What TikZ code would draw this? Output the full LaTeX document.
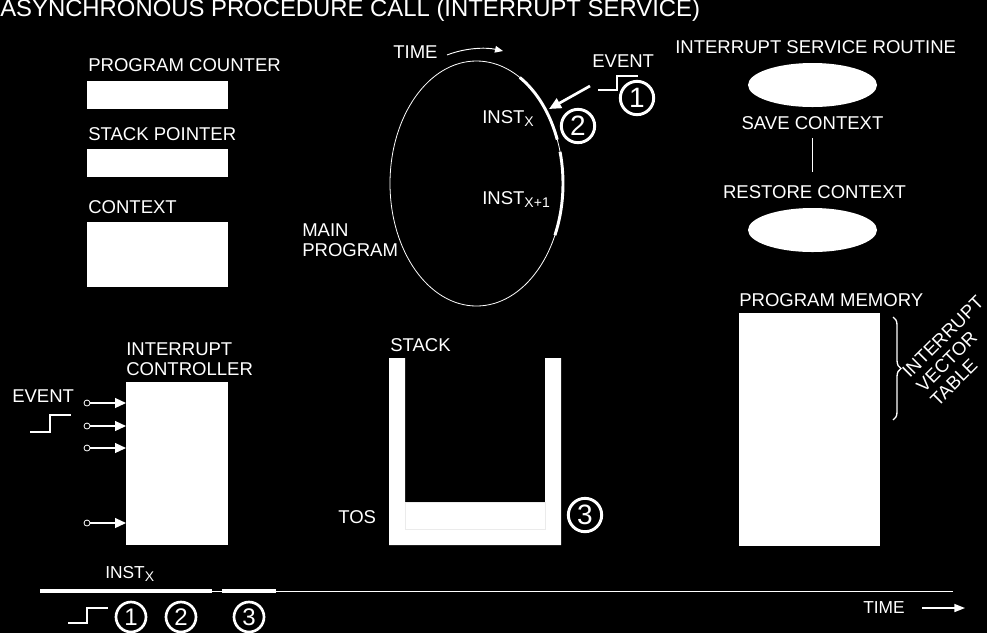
\documentclass[tikz,border=0pt]{standalone}
\usepackage{fontspec}
\setmainfont{Liberation Sans}
\usetikzlibrary{arrows.meta,positioning,shapes.geometric,decorations.pathreplacing}
\newlength{\px}
\setlength{\px}{0.75pt}
\newcommand{\lowx}[1]{\raisebox{-0.35ex}{\fontsize{10.5pt}{10.5pt}\selectfont #1}}

\begin{document}
\begin{tikzpicture}[x=1\px,y=-1\px,
  >={Triangle[length=8.25pt,width=7.5pt]},
  lbl/.style={text=white,inner sep=0pt,anchor=base west,
              font=\fontsize{13.9pt}{15pt}\selectfont},
  reg/.style={fill=white,draw=none,inner sep=0pt,outer sep=0pt,anchor=north west},
  num/.style={circle,draw=white,line width=2.2pt,text=white,inner sep=0pt,
              minimum size=25pt,font=\fontsize{21pt}{21pt}\selectfont},
  numsm/.style={num,minimum size=22.5pt,line width=2pt,font=\fontsize{18pt}{18pt}\selectfont},
  pin/.style={circle,draw=white,line width=0.6pt,inner sep=0pt,minimum size=4.5pt},
  sig/.style={->,white,line width=0.9pt},
  wire/.style={white,line width=0.9pt},
  oval/.style={ellipse,fill=white,draw=none,inner sep=0pt,
               minimum width=129\px,minimum height=44\px}]

\useasboundingbox (0,0) rectangle (987,633);
\fill[black] (0,0) rectangle (987,633);

\node[lbl,font=\fontsize{17.9pt}{18pt}\selectfont] (title) at (0,16)
  {ASYNCHRONOUS PROCEDURE CALL (INTERRUPT SERVICE)};

% registers
\node[lbl] (pclbl) at (88,71) {PROGRAM COUNTER};
\node[reg,minimum width=141\px,minimum height=28\px] (pc) at (87,81) {};
\node[lbl] (splbl) at (88,140) {STACK POINTER};
\node[reg,minimum width=141\px,minimum height=28\px] (sp) at (87,149) {};
\node[lbl] (ctxlbl) at (88,213) {CONTEXT};
\node[reg,minimum width=141\px,minimum height=65\px] (ctx) at (87,222) {};

% main program loop
\coordinate (mp) at (476.5,183.5);
\draw[white,line width=0.6pt] (mp) ellipse [x radius=86.5,y radius=122.5];
\draw[white,line width=2.2pt] (mp) ++(-60:86.5 and 122.5)
  arc[start angle=-60,end angle=-21,x radius=86.5,y radius=122.5];
\draw[white,line width=2.2pt] (mp) ++(-15:86.5 and 122.5)
  arc[start angle=-15,end angle=25,x radius=86.5,y radius=122.5];
\node[lbl] (instx) at (482,123) {INST\lowx{X}};
\node[lbl] (instx1) at (482,204) {INST\lowx{X+1}};
\node[lbl,align=left] (main) at (302,256) {MAIN\\PROGRAM};

\node[lbl] (timelbl) at (393,58) {TIME};
\coordinate (t0) at (447,55);
\coordinate (t1) at (503,51);
\draw[->,white,line width=0.7pt,>={Triangle[length=6pt,width=5pt]}]
  (t0) .. controls (465,48) and (485,47) .. (t1);

\node[lbl] (evlbl) at (592,67) {EVENT};
\draw[wire] (598,90) -| (617,76) -- (638,76);
\node[num] (n1) at (637,98) {1};
\coordinate (evtail) at (590,86);
\coordinate (evhit) at (549,109);
\draw[->,white,line width=2pt,>={Triangle[length=9pt,width=8pt]}] (evtail) -- (evhit);
\node[num] (n2) at (578,126) {2};

% service routine
\node[lbl] (isrlbl) at (675,53) {INTERRUPT SERVICE ROUTINE};
\node[oval] (save) at (812.5,85) {};
\node[lbl,anchor=base] (savelbl) at (812.5,129) {SAVE CONTEXT};
\node[lbl,anchor=base] (restlbl) at (814.5,198) {RESTORE CONTEXT};
\draw[wire,shorten <=9\px,shorten >=13\px] (savelbl.south) -- (savelbl.south |- restlbl.north);
\node[oval] (restore) at (812.5,230) {};

% program memory
\node[lbl] (pmlbl) at (739,306) {PROGRAM MEMORY};
\node[reg,minimum width=141\px,minimum height=233\px] (pm) at (739,313) {};
\coordinate (ivt0) at (893,317);
\coordinate (ivt1) at (893,420);
\draw[white,line width=1pt,decorate,decoration={brace,amplitude=6pt}] (ivt0) -- (ivt1);
\node[lbl,anchor=center,align=left,rotate=45] (ivt) at (957,351)
  {INTERRUPT\\VECTOR\\TABLE};

% stack
\node[lbl] (stacklbl) at (390,351) {STACK};
\fill[white] (389,358) |- (561,545) |- (545,358) |- (405,502) -- (405,358) -- cycle;
\draw[black!8,line width=0.5pt] (405,502) rectangle (545,529);
\node[lbl] (toslbl) at (338,523) {TOS};
\node[num] (n3) at (585,515) {3};

% interrupt controller
\node[lbl,align=left] (iclbl) at (126,375) {INTERRUPT\\CONTROLLER};
\node[reg,minimum width=102\px,minimum height=163\px] (ic) at (126,382) {};
\node[lbl] (evlbl2) at (12,402) {EVENT};
\draw[wire] (30,432) -| (50,415) -- (71,415);
\foreach \y/\n in {403/a,426/b,448/c,523/d}{
  \node[pin] (pin\n) at (87,\y) {};
  \draw[sig] (pin\n) -- (pin\n -| ic.west);
}

% time line
\coordinate (tl0) at (40,591);
\coordinate (tl1) at (212,591);
\coordinate (tl2) at (222,591);
\coordinate (tl3) at (276,591);
\coordinate (tl4) at (953,591);
\draw[white,line width=0.7pt] (tl0) -- (tl4);
\draw[white,line width=2.6pt] (tl0) -- (tl1) (tl2) -- (tl3);
\node[lbl,font=\fontsize{13pt}{14pt}\selectfont] (instb) at (105,578) {INST\lowx{X}};
\draw[wire] (68,623) -| (87,608) -- (108,608);
\node[numsm] (b1) at (131,617) {1};
\node[numsm] (b2) at (181,617) {2};
\node[numsm] (b3) at (249,617) {3};
\node[lbl,font=\fontsize{13pt}{14pt}\selectfont] (timeb) at (863,613) {TIME};
\coordinate (ta0) at (922,608);
\coordinate (ta1) at (965,608);
\draw[->,white,line width=1pt,>={Triangle[length=8pt,width=6pt]}] (ta0) -- (ta1);
\end{tikzpicture}
\end{document}
